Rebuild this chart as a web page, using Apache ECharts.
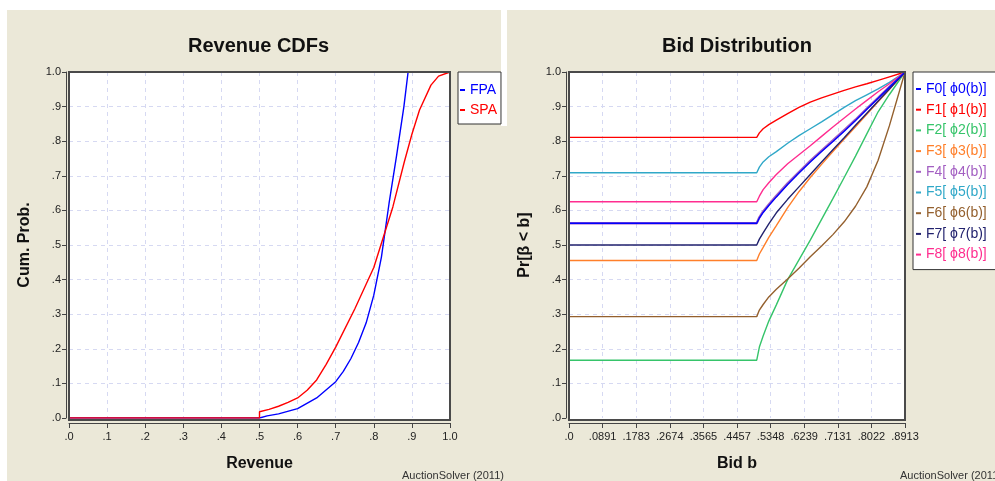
<!DOCTYPE html>
<html>
<head>
<meta charset="utf-8">
<script src="https://cdn.jsdelivr.net/npm/echarts/dist/echarts.min.js"></script>
<style>
html, body { margin: 0; padding: 0; background: #fff; }
#chart { width: 995px; height: 481px; }
</style>
</head>
<body>
<div id="chart"></div>
<script>
var FONT = 'Liberation Sans, Arial, sans-serif';

// tick labels
var revTicks = ['.0', '.1', '.2', '.3', '.4', '.5', '.6', '.7', '.8', '.9', '1.0'];
var probTicks = ['.0', '.1', '.2', '.3', '.4', '.5', '.6', '.7', '.8', '.9', '1.0'];
var bidTicks = ['.0', '.0891', '.1783', '.2674', '.3565', '.4457', '.5348', '.6239', '.7131', '.8022', '.8913'];

// left: revenue CDFs
var fpaRevenue = [0, 0.5, 0.52, 0.55, 0.6, 0.65, 0.7, 0.72, 0.74, 0.76, 0.78, 0.8, 0.82, 0.84, 0.86, 0.879, 0.89];
var fpaProb = [0, 0, 0.006, 0.012, 0.027, 0.058, 0.105, 0.135, 0.172, 0.218, 0.275, 0.355, 0.465, 0.62, 0.76, 0.9, 1.0];
var spaRevenue = [0, 0.5, 0.5, 0.525, 0.55, 0.575, 0.6, 0.625, 0.65, 0.675, 0.7, 0.75, 0.8, 0.85, 0.88, 0.9, 0.92, 0.95, 0.97, 1.0];
var spaProb = [0, 0, 0.018, 0.025, 0.034, 0.045, 0.058, 0.08, 0.11, 0.155, 0.205, 0.315, 0.435, 0.61, 0.74, 0.82, 0.89, 0.962, 0.988, 1.0];

// right: bid distribution
var bidPoints = [0, 0.498, 0.505, 0.515, 0.53, 0.55, 0.58, 0.61, 0.64, 0.67, 0.70, 0.73, 0.76, 0.79, 0.82, 0.85, 0.8913];
var phi0 = [.563, .563, .578, .594, .614, .639, .675, .708, .740, .770, .799, .829, .860, .892, .924, .956, 1];
var phi1 = [.811, .811, .824, .836, .848, .861, .880, .898, .913, .925, .936, .947, .957, .966, .976, .986, 1];
var phi2 = [.167, .167, .205, .237, .280, .327, .400, .457, .514, .574, .634, .695, .757, .821, .885, .935, 1];
var phi3 = [.455, .455, .474, .493, .522, .556, .608, .654, .695, .733, .770, .806, .842, .878, .914, .950, 1];
var phi4 = [.563, .563, .580, .597, .617, .642, .678, .711, .743, .773, .802, .832, .862, .894, .925, .957, 1];
var phi5 = [.709, .709, .725, .740, .755, .770, .794, .816, .836, .856, .877, .898, .917, .934, .951, .970, 1];
var phi6 = [.293, .293, .312, .328, .350, .372, .402, .433, .466, .497, .530, .567, .612, .668, .745, .845, 1];
var phi7 = [.500, .500, .517, .535, .561, .593, .632, .668, .704, .740, .775, .810, .846, .881, .916, .951, 1];
var phi8 = [.625, .625, .641, .660, .680, .704, .735, .761, .787, .814, .841, .867, .893, .918, .943, .966, 1];

var bidNames = ['F0[ ϕ0(b)]', 'F1[ ϕ1(b)]', 'F2[ ϕ2(b)]', 'F3[ ϕ3(b)]', 'F4[ ϕ4(b)]',
	'F5[ ϕ5(b)]', 'F6[ ϕ6(b)]', 'F7[ ϕ7(b)]', 'F8[ ϕ8(b)]'];
var bidColors = ['#0000ff', '#ff0000', '#36c46a', '#ff7f2a', '#a35fc2', '#30a8c8', '#94602e', '#22226e', '#ff2d8f'];
var bidSeries = [phi0, phi1, phi2, phi3, phi4, phi5, phi6, phi7, phi8];

function pairs(xs, ys) {
	return xs.map(function(x, i) { return [x, ys[i]]; });
}

var gridLine = { show: true, showMinLine: false, showMaxLine: false, lineStyle: { color: '#d6d9f2', type: [4, 4] } };

function makeX(gridIndex, max, interval, labels, name) {
	return {
		type: 'value', gridIndex: gridIndex, min: 0, max: max, interval: interval, offset: 5,
		axisLine: { show: true, onZero: false, lineStyle: { color: '#444', width: 1 } },
		axisTick: { show: true, length: 5, lineStyle: { color: '#444' } },
		axisLabel: {
			margin: 8, fontSize: 11, color: '#222', fontFamily: FONT,
			formatter: function(v) { return labels[Math.round(v / interval)]; }
		},
		splitLine: gridLine,
		name: name, nameLocation: 'middle', nameGap: 33,
		nameTextStyle: { fontSize: 16, fontWeight: 'bold', color: '#111', fontFamily: FONT }
	};
}

function makeY(gridIndex, name, gap) {
	return {
		type: 'value', gridIndex: gridIndex, min: 0, max: 1, interval: 0.1, offset: 3,
		axisLine: { show: true, onZero: false, lineStyle: { color: '#444', width: 1 } },
		axisTick: { show: true, length: 4, lineStyle: { color: '#444' } },
		axisLabel: {
			margin: 5, fontSize: 11, color: '#222', fontFamily: FONT,
			formatter: function(v) { return probTicks[Math.round(v * 10)]; }
		},
		splitLine: gridLine,
		name: name, nameLocation: 'middle', nameGap: gap,
		nameTextStyle: { fontSize: 16, fontWeight: 'bold', color: '#111', fontFamily: FONT }
	};
}

var series = [{
	name: 'FPA', type: 'line', xAxisIndex: 0, yAxisIndex: 0, color: '#0000ff',
	showSymbol: false, symbol: 'none', lineStyle: { width: 1.4 },
	data: pairs(fpaRevenue, fpaProb)
}, {
	name: 'SPA', type: 'line', xAxisIndex: 0, yAxisIndex: 0, color: '#ff0000',
	showSymbol: false, symbol: 'none', lineStyle: { width: 1.4 },
	data: pairs(spaRevenue, spaProb)
}];

bidSeries.forEach(function(vals, i) {
	series.push({
		name: bidNames[i], type: 'line', xAxisIndex: 1, yAxisIndex: 1, color: bidColors[i],
		showSymbol: false, symbol: 'none',
		z: i === 0 ? 3 : 2,
		lineStyle: { width: i === 4 ? 2.4 : 1.4 },
		data: pairs(bidPoints, vals)
	});
});

var legendText = { fontSize: 14, fontFamily: FONT, lineHeight: 14 };

// plot frames drawn over the grid edges (a little below the zero line)
function frame(x, y, w, h) {
	return {
		type: 'rect', z: 100, silent: true,
		shape: { x: x, y: y, width: w, height: h },
		style: { fill: null, stroke: '#4a4a4a', lineWidth: 2 }
	};
}
function strip(x, y, w, h) {
	return { type: 'rect', silent: true, shape: { x: x, y: y, width: w, height: h }, style: { fill: '#fff' } };
}

var option = {
	backgroundColor: '#ebe8d8',
	animation: false,
	title: [{
		text: 'Revenue CDFs', left: 188, top: 36, padding: 0,
		textStyle: { fontSize: 20, fontWeight: 'bold', color: '#111', fontFamily: FONT }
	}, {
		text: 'Bid Distribution', left: 662, top: 36, padding: 0,
		textStyle: { fontSize: 20, fontWeight: 'bold', color: '#111', fontFamily: FONT }
	}],
	grid: [{
		left: 69, right: 545, top: 72, bottom: 63, show: true,
		backgroundColor: '#fff', borderWidth: 0
	}, {
		left: 569, right: 90, top: 72, bottom: 63, show: true,
		backgroundColor: '#fff', borderWidth: 0
	}],
	xAxis: [
		makeX(0, 1, 0.1, revTicks, 'Revenue'),
		makeX(1, 0.8913, 0.08913, bidTicks, 'Bid b')
	],
	yAxis: [
		makeY(0, 'Cum. Prob.', 33),
		makeY(1, 'Pr[β < b]', 33)
	],
	legend: [{
		left: 458, top: 72, orient: 'vertical', icon: 'rect', itemWidth: 5, itemHeight: 2,
		itemGap: 6, padding: [11, 4, 7, 2], selectedMode: false,
		backgroundColor: '#fff', borderColor: '#333', borderWidth: 1,
		textStyle: legendText,
		data: [
			{ name: 'FPA', textStyle: { color: '#0000ff' } },
			{ name: 'SPA', textStyle: { color: '#ff0000' } }
		]
	}, {
		left: 913, top: 72, orient: 'vertical', icon: 'rect', itemWidth: 5, itemHeight: 2,
		itemGap: 6.7, padding: [10, 20, 8, 3], selectedMode: false,
		backgroundColor: '#fff', borderColor: '#333', borderWidth: 1,
		textStyle: legendText,
		data: bidNames.map(function(n, i) {
			return { name: n, textStyle: { color: bidColors[i] } };
		})
	}],
	graphic: [
		strip(0, 0, 995, 10),
		strip(0, 0, 7, 481),
		strip(501, 0, 6, 126),
		strip(69, 418, 381, 3),
		strip(569, 418, 336, 3),
		frame(69, 72, 381, 348),
		frame(569, 72, 336, 348),
		{ type: 'text', left: 402, top: 470, style: { text: 'AuctionSolver (2011)', font: '11px ' + FONT, fill: '#333' } },
		{ type: 'text', left: 900, top: 470, style: { text: 'AuctionSolver (2011)', font: '11px ' + FONT, fill: '#333' } }
	],
	series: series
};

var chart = echarts.init(document.getElementById('chart'));
chart.setOption(option);
window.addEventListener('resize', function() {
	chart.resize();
});
</script>
</body>
</html>
